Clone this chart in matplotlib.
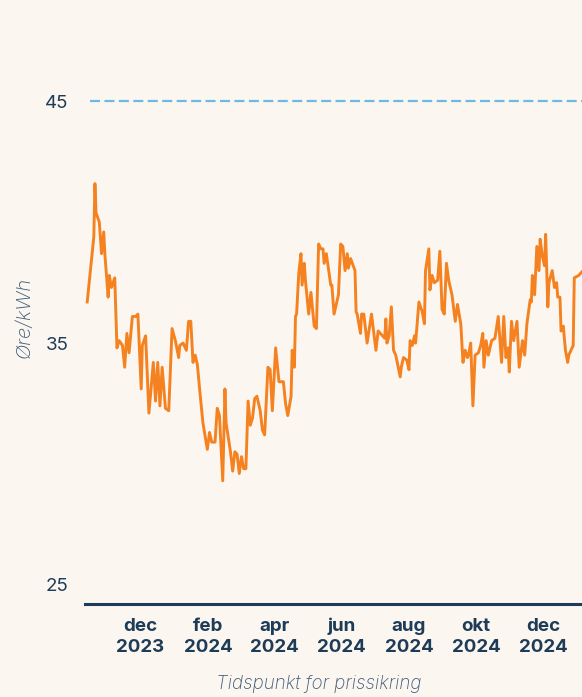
import matplotlib
matplotlib.use("Agg")
import matplotlib.pyplot as plt
import pandas as pd

# price hedge series (øre/kWh)
dates = [
    "2023-10-14", "2023-10-20", "2023-10-21", "2023-10-22", "2023-10-25", "2023-10-27",
    "2023-10-29", "2023-10-30", "2023-11-02", "2023-11-03", "2023-11-05", "2023-11-08",
    "2023-11-10", "2023-11-12", "2023-11-15", "2023-11-17", "2023-11-19", "2023-11-21",
    "2023-11-24", "2023-11-27", "2023-11-29", "2023-12-02", "2023-12-03", "2023-12-06",
    "2023-12-09", "2023-12-13", "2023-12-15", "2023-12-17", "2023-12-19", "2023-12-21",
    "2023-12-24", "2023-12-27", "2023-12-30", "2024-01-02", "2024-01-05", "2024-01-06",
    "2024-01-09", "2024-01-12", "2024-01-14", "2024-01-16", "2024-01-18", "2024-01-20",
    "2024-01-22", "2024-01-24", "2024-01-27", "2024-01-31", "2024-02-02", "2024-02-04",
    "2024-02-07", "2024-02-09", "2024-02-11", "2024-02-14", "2024-02-16", "2024-02-17",
    "2024-02-21", "2024-02-23", "2024-02-25", "2024-02-27", "2024-02-29", "2024-03-02",
    "2024-03-04", "2024-03-06", "2024-03-08", "2024-03-10", "2024-03-12", "2024-03-14",
    "2024-03-16", "2024-03-19", "2024-03-21", "2024-03-23", "2024-03-26", "2024-03-28",
    "2024-03-30", "2024-04-02", "2024-04-05", "2024-04-09", "2024-04-11", "2024-04-13",
    "2024-04-16", "2024-04-17", "2024-04-19", "2024-04-20", "2024-04-21", "2024-04-23",
    "2024-04-25", "2024-04-26", "2024-04-28", "2024-04-29", "2024-05-02", "2024-05-04",
    "2024-05-07", "2024-05-09", "2024-05-11", "2024-05-13", "2024-05-15", "2024-05-16",
    "2024-05-18", "2024-05-22", "2024-05-23", "2024-05-25", "2024-05-29", "2024-05-31",
    "2024-06-02", "2024-06-04", "2024-06-06", "2024-06-07", "2024-06-09", "2024-06-13",
    "2024-06-14", "2024-06-15", "2024-06-18", "2024-06-19", "2024-06-21", "2024-06-24",
    "2024-06-28", "2024-07-02", "2024-07-04", "2024-07-08", "2024-07-10", "2024-07-11",
    "2024-07-12", "2024-07-14", "2024-07-16", "2024-07-18", "2024-07-20", "2024-07-24",
    "2024-07-25", "2024-07-27", "2024-07-30", "2024-08-01", "2024-08-02", "2024-08-04",
    "2024-08-06", "2024-08-07", "2024-08-10", "2024-08-13", "2024-08-15", "2024-08-16",
    "2024-08-19", "2024-08-20", "2024-08-22", "2024-08-24", "2024-08-27", "2024-08-29",
    "2024-08-31", "2024-09-02", "2024-09-04", "2024-09-06", "2024-09-09", "2024-09-12",
    "2024-09-14", "2024-09-17", "2024-09-19", "2024-09-21", "2024-09-23", "2024-09-24",
    "2024-09-26", "2024-09-28", "2024-09-30", "2024-10-03", "2024-10-05", "2024-10-07",
    "2024-10-08", "2024-10-10", "2024-10-12", "2024-10-15", "2024-10-18", "2024-10-21",
    "2024-10-24", "2024-10-26", "2024-10-28", "2024-10-30", "2024-10-31", "2024-11-02",
    "2024-11-04", "2024-11-07", "2024-11-09", "2024-11-12", "2024-11-14", "2024-11-16",
    "2024-11-19", "2024-11-20", "2024-11-21", "2024-11-23", "2024-11-25", "2024-11-27",
    "2024-11-28", "2024-11-30", "2024-12-02", "2024-12-03", "2024-12-05", "2024-12-06",
    "2024-12-09", "2024-12-11", "2024-12-13", "2024-12-14", "2024-12-16", "2024-12-17",
    "2024-12-19", "2024-12-21", "2024-12-23", "2024-12-24", "2024-12-26", "2024-12-28",
    "2024-12-29", "2025-01-02", "2025-01-08",
]
prices = [
    36.7, 39.4, 41.6, 40.4, 40.0, 38.7,
    39.6, 38.7, 36.9, 37.8, 37.3, 37.7,
    34.8, 35.1, 34.9, 34.0, 35.4, 34.6,
    36.1, 36.1, 36.2, 33.1, 34.9, 35.3,
    32.1, 34.2, 32.6, 34.2, 32.4, 34.0,
    32.3, 32.2, 35.6, 35.1, 34.4, 34.9,
    35.0, 34.7, 35.9, 35.9, 34.2, 34.5,
    34.1, 33.1, 31.7, 30.6, 31.3, 30.9,
    30.9, 32.3, 32.0, 29.3, 33.1, 31.7,
    30.5, 29.7, 30.5, 30.4, 29.6, 30.3,
    29.8, 29.8, 32.6, 31.6, 31.9, 32.7,
    32.8, 32.2, 31.4, 31.2, 34.0, 33.9,
    32.2, 34.8, 33.4, 33.4, 32.5, 32.0,
    32.8, 34.7, 34.0, 36.1, 36.2, 37.9,
    38.7, 37.4, 38.3, 37.6, 36.2, 37.1,
    35.7, 35.6, 39.1, 38.9, 38.9, 38.3,
    38.7, 37.4, 37.4, 36.2, 37.0, 39.1,
    39.0, 38.0, 38.7, 38.1, 38.5, 38.0,
    36.3, 36.2, 35.4, 36.2, 36.2, 35.0,
    36.2, 34.7, 35.5, 35.3, 35.2, 36.0,
    35.0, 35.3, 36.5, 34.7, 34.5, 33.6,
    34.0, 34.4, 34.3, 33.9, 35.1, 34.9,
    35.3, 35.0, 36.7, 36.3, 35.8, 38.0,
    38.9, 37.2, 37.8, 37.5, 37.6, 38.8,
    36.4, 36.2, 38.3, 37.6, 37.0, 35.9,
    36.6, 35.8, 34.2, 34.7, 34.4, 34.5,
    35.0, 32.4, 34.5, 34.6, 34.9, 35.4,
    34.0, 35.1, 34.5, 35.1, 35.2, 36.1,
    34.2, 36.1, 34.4, 34.8, 33.8, 35.9,
    35.1, 35.9, 34.0, 35.1, 34.5, 35.8,
    36.8, 36.7, 37.8, 37.0, 39.0, 38.0,
    39.3, 38.6, 38.2, 39.5, 36.5, 37.5,
    38.0, 37.3, 37.5, 36.9, 36.9, 35.5,
    35.7, 34.7, 34.2, 34.5, 34.7, 34.9,
    37.7, 37.8, 38.1,
]
reference_level = 45

tick_dates = ["2023-12-01", "2024-02-01", "2024-04-01", "2024-06-01",
              "2024-08-01", "2024-10-01", "2024-12-01"]
tick_labels = ["dec\n2023", "feb\n2024", "apr\n2024", "jun\n2024",
               "aug\n2024", "okt\n2024", "dec\n2024"]
y_ticks = [25, 35, 45]

bg = "#fcf6f1"
navy = "#1d3c57"
slate = "#3f5d79"

plt.rcParams["font.family"] = ["Inter", "DejaVu Sans"]

fig = plt.figure(figsize=(5.82, 6.97), dpi=100, facecolor=bg)
ax = fig.add_axes([85 / 582, 93 / 697, 497 / 582, 604 / 697])
ax.set_facecolor(bg)

x = pd.to_datetime(dates)
ax.axhline(reference_level, xmin=0.01, xmax=1, color="#6cb9e2", lw=1.6,
           dashes=(4.5, 2.0), zorder=1)
ax.plot(x, prices, color="#f58220", lw=2.1, solid_joinstyle="round", zorder=2)

ax.set_xlim(pd.Timestamp("2023-10-12"), pd.Timestamp("2025-01-05"))
ax.set_ylim(24.2, 49.2)

ax.set_xticks(pd.to_datetime(tick_dates))
ax.set_xticklabels(tick_labels, fontsize=13.5, fontweight="bold", color=navy,
                   linespacing=1.3)
ax.set_yticks(y_ticks)
ax.set_yticklabels([str(v) for v in y_ticks], fontsize=13.5, color=navy)
ax.tick_params(axis="both", length=0)
ax.tick_params(axis="x", pad=10)
ax.tick_params(axis="y", pad=12)

for side in ["top", "right", "left"]:
    ax.spines[side].set_visible(False)
ax.spines["bottom"].set_color(navy)
ax.spines["bottom"].set_linewidth(2.2)

ax.set_ylabel("Øre/kWh", fontsize=14.5, style="italic", color=slate, fontweight="light")
ax.yaxis.set_label_coords(-0.104, 0.474)
ax.set_xlabel("Tidspunkt for prissikring", fontsize=13.5, style="italic", color=slate,
              fontweight="light")
ax.xaxis.set_label_coords((319 - 85) / 497, -0.117)

fig.savefig("out.png", dpi=100, facecolor=bg)
